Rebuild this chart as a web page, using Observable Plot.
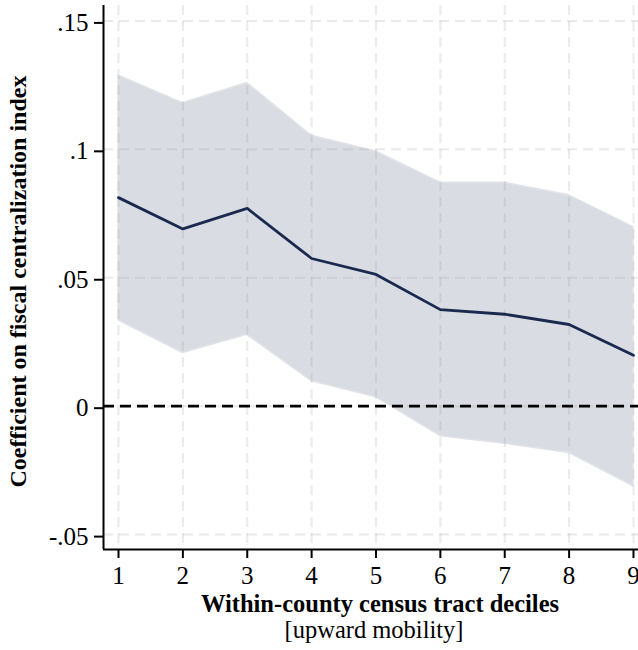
<!DOCTYPE html>
<html><head><meta charset="utf-8">
<script src="https://cdn.jsdelivr.net/npm/d3@7"></script>
<script src="https://cdn.jsdelivr.net/npm/@observablehq/plot@0.6"></script>
<style>body{margin:0;background:#fff} svg{display:block}</style>
</head><body><div id="chart"></div>
<script>
const deciles = [1, 2, 3, 4, 5, 6, 7, 8, 9];
const coef  = [0.0812, 0.0690, 0.0770, 0.0575, 0.0513, 0.0376, 0.0358, 0.0318, 0.0198];
const upper = [0.1287, 0.1180, 0.1258, 0.1053, 0.0992, 0.0870, 0.0870, 0.0821, 0.0697];
const lower = [0.0334, 0.0207, 0.0278, 0.0097, 0.0035, -0.0117, -0.0146, -0.0182, -0.0312];
const yTicks = [-0.05, 0, 0.05, 0.1, 0.15];
const yTickLabels = ["-.05", "0", ".05", ".1", ".15"];
const xTitle = "Within-county census tract deciles";
const xSubtitle = "[upward mobility]";
const yTitle = "Coefficient on fiscal centralization index";

const data = deciles.map((d, i) => ({d, coef: coef[i], lo: lower[i], hi: upper[i]}));
const xDomain = [0.767, 9.078];
const yDomain = [-0.0558, 0.156];
const gridStyle = {stroke: "#a0a0a0", strokeOpacity: 0.22, strokeWidth: 2, strokeDasharray: "10,6"};

const chart = Plot.plot({
  width: 638, height: 650,
  marginLeft: 103, marginRight: 0, marginTop: 5, marginBottom: 101,
  style: {fontFamily: "'Liberation Serif', 'Times New Roman', serif", fontSize: "24px", background: "#fff", color: "#000"},
  x: {domain: xDomain},
  y: {domain: yDomain},
  marks: [
    Plot.areaY(data, {x: "d", y1: "lo", y2: "hi", fill: "#d9dce3", stroke: "#e1e3e8", strokeWidth: 1.5}),
    Plot.gridX(deciles, gridStyle),
    Plot.gridY(yTicks, gridStyle),
    Plot.ruleY([0], {stroke: "#000", strokeWidth: 2.8, strokeDasharray: "11,6"}),
    Plot.lineY(data, {x: "d", y: "coef", stroke: "#1a2a4f", strokeWidth: 2.8}),
    Plot.ruleX([xDomain[0]], {stroke: "#000", strokeWidth: 2}),
    Plot.ruleY([yDomain[0]], {stroke: "#000", strokeWidth: 2}),
    Plot.axisX(deciles, {tickSize: 9, tickPadding: 8, strokeWidth: 2, tickFormat: d => String(d), label: null, fontSize: 25}),
    Plot.axisY(yTicks, {tickSize: 9, tickPadding: 6, strokeWidth: 2, tickFormat: d => yTickLabels[yTicks.indexOf(d)], label: null, fontSize: 25, dy: 2}),
    Plot.text([xTitle], {text: d => d, frameAnchor: "bottom", dx: 9, dy: 62, fontWeight: "bold", fontSize: 24.5}),
    Plot.text([xSubtitle], {text: d => d, frameAnchor: "bottom", dx: 3, dy: 88, fontSize: 24.5}),
    Plot.text([yTitle], {text: d => d, frameAnchor: "left", textAnchor: "middle", rotate: -90, dx: -85, dy: 4, fontWeight: "bold", fontSize: 24})
  ]
});
document.getElementById("chart").appendChild(chart);
</script>
</body></html>
